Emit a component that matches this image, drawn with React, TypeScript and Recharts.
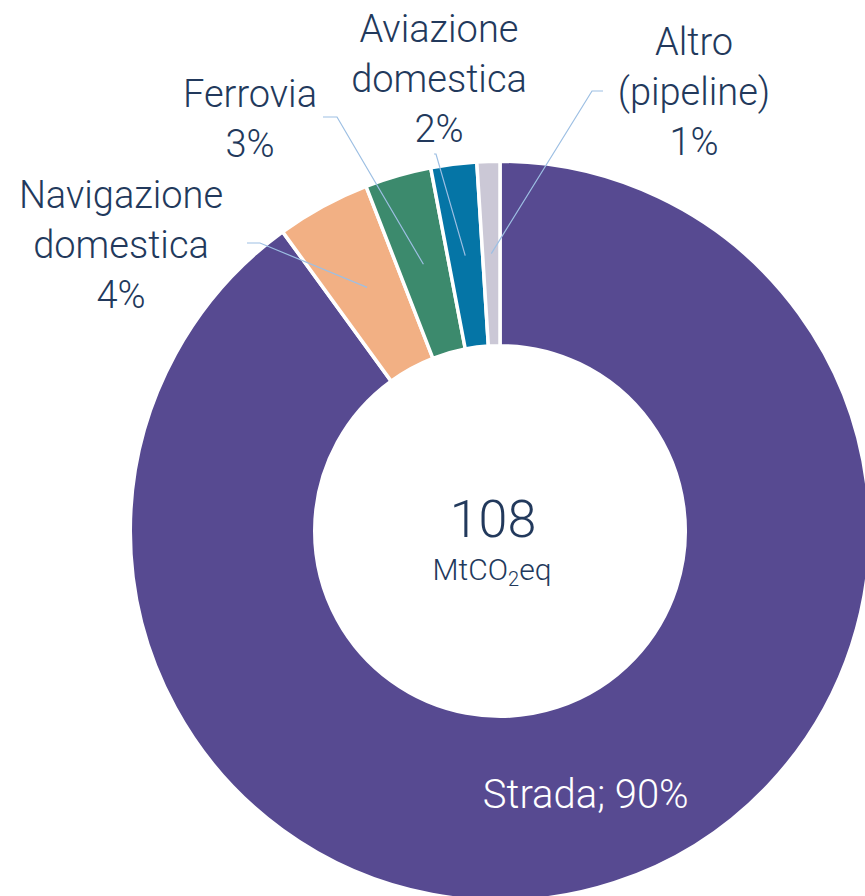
import React from "react";
import { PieChart, Pie, Cell, Label } from "recharts";

// ---- data ----
const categories = [
  "Strada",
  "Navigazione domestica",
  "Ferrovia",
  "Aviazione domestica",
  "Altro (pipeline)",
];
const shares = [90.0, 4.1, 2.9, 2.0, 1.0];
const totalValue = "108";
const totalUnitPrefix = "MtCO";
const totalUnitSub = "2";
const totalUnitSuffix = "eq";

// ---- style / layout ----
const colors = ["#574A91", "#F2B084", "#3C8A6D", "#0575A6", "#CBC8D6"];
const TEXT = "#22395C";
const LEADER = "#9DBFE3";
const FONT = "Roboto, 'Open Sans', sans-serif";
const CX = 500;
const CY = 531;

// label placements relative to pie centre (annotation layout, not data)
const labelLayout: Array<null | { elbow: number[]; end: number[]; text: number[] }> = [
  null,
  { elbow: [-240, -288], end: [-253, -288], text: [-379, -323] },
  { elbow: [-163, -414], end: [-177, -414], text: [-250, -424] },
  { elbow: [-64, -377], end: [-66, -377], text: [-61, -489] },
  { elbow: [92, -440], end: [103, -440], text: [194, -476] },
];

const data = categories.map((name, i) => ({ name, value: shares[i] }));
const sum = shares.reduce((a, b) => a + b, 0);

const RAD = Math.PI / 180;

function renderLabel(props: any) {
  const { cx, cy, midAngle, innerRadius, outerRadius, index } = props;
  const mr = (innerRadius + outerRadius) / 2;
  const ax = cx + mr * Math.cos(-midAngle * RAD);
  const ay = cy + mr * Math.sin(-midAngle * RAD);
  const pct = Math.round((shares[index] / sum) * 100) + "%";
  if (index === 0) {
    return (
      <text
        x={ax}
        y={ay}
        fill="#FFFFFF"
        textAnchor="middle"
        dominantBaseline="central"
        fontFamily={FONT}
        fontWeight={300}
        fontSize={40}
      >
        {`${categories[0]}; ${pct}`}
      </text>
    );
  }
  const L = labelLayout[index]!;
  const lines = [...categories[index].split(" "), pct];
  return (
    <g>
      <polyline
        points={`${ax},${ay} ${cx + L.elbow[0]},${cy + L.elbow[1]} ${cx + L.end[0]},${cy + L.end[1]}`}
        fill="none"
        stroke={LEADER}
        strokeWidth={1.2}
      />
      <text textAnchor="middle" fill={TEXT} fontFamily={FONT} fontWeight={300} fontSize={38}>
        {lines.map((l, i) => (
          <tspan key={i} x={cx + L.text[0]} y={cy + L.text[1] + i * 50}>
            {l}
          </tspan>
        ))}
      </text>
    </g>
  );
}

function CenterLabel(props: any) {
  const vb = props.viewBox || {};
  const cx = vb.cx ?? CX;
  const cy = vb.cy ?? CY;
  return (
    <g>
      <text
        x={cx - 7}
        y={cy + 6}
        textAnchor="middle"
        fill={TEXT}
        fontFamily={FONT}
        fontWeight={300}
        fontSize={52}
      >
        {totalValue}
      </text>
      <text
        x={cx - 8}
        y={cy + 49}
        textAnchor="middle"
        fill={TEXT}
        fontFamily={FONT}
        fontWeight={300}
        fontSize={30}
      >
        {totalUnitPrefix}
        <tspan fontSize={20} dy={6}>
          {totalUnitSub}
        </tspan>
        <tspan dy={-6}>{totalUnitSuffix}</tspan>
      </text>
    </g>
  );
}

export default function App() {
  return (
    <div
      style={{
        position: "absolute",
        left: 0,
        top: 0,
        width: 865,
        height: 896,
        background: "#FFFFFF",
        overflow: "hidden",
      }}
    >
      <PieChart width={865} height={896} margin={{ top: 0, right: 0, bottom: 0, left: 0 }}>
        <Pie
          data={data}
          dataKey="value"
          nameKey="name"
          cx={CX}
          cy={CY}
          innerRadius={185.25}
          outerRadius={369.75}
          startAngle={90}
          endAngle={-270}
          stroke="#FFFFFF"
          strokeWidth={3.5}
          label={renderLabel}
          labelLine={false}
          isAnimationActive={false}
        >
          {data.map((d, i) => (
            <Cell key={d.name} fill={colors[i]} />
          ))}
          <Label position="center" content={<CenterLabel />} />
        </Pie>
      </PieChart>
    </div>
  );
}
